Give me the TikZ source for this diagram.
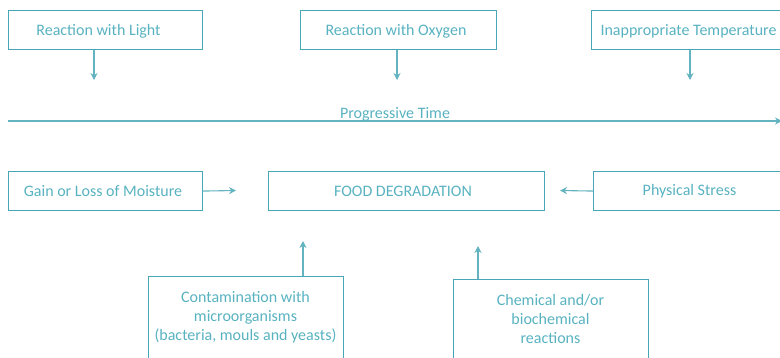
\documentclass[tikz,border=0pt]{standalone}
\usepackage{fontspec}
\setmainfont{Carlito}
\usetikzlibrary{arrows.meta}
\definecolor{teal1}{RGB}{72,166,182}
\definecolor{tealtext}{RGB}{88,178,192}
\tikzset{
  box/.style={draw=teal1, line width=1.1pt, minimum height=39pt, inner sep=0pt, anchor=north west},
  lbl/.style={text=tealtext, font=\fontsize{16}{19}\selectfont, align=center, inner sep=0pt},
  link/.style={draw=teal1!85, line width=1.1pt, -{Stealth[length=7pt,width=7pt]}},
}
\begin{document}
\begin{tikzpicture}[x=1pt,y=-1pt]
\useasboundingbox (0,0) rectangle (780,357);
\clip (0,0) rectangle (780,357);
% causes acting over time
\node[box, minimum width=194pt] (light) at (8,10) {};
\node[lbl] (lighttxt) at (98.5,31) {Reaction with Light};
\node[box, minimum width=196pt] (oxygen) at (300,10) {};
\node[lbl] (oxytxt) at (396,31) {Reaction with Oxygen};
\node[box, minimum width=200pt] (temp) at (591,10) {};
\node[lbl] (temptxt) at (688.5,31) {Inappropriate Temperature};
\coordinate (lightend) at (94,80);
\coordinate (oxyend) at (397,80);
\coordinate (tempend) at (690,80);
\draw[link] (light.south -| lightend) -- (lightend);
\draw[link] (oxygen.south -| oxyend) -- (oxyend);
\draw[link] (temp.south -| tempend) -- (tempend);
% time axis
\coordinate (t0) at (8,121);
\coordinate (t1) at (782,121);
\draw[link] (t0) -- (t1);
\node[lbl] (time) at (395,114) {Progressive Time};
% middle row
\node[box, minimum width=194pt] (moist) at (8,171) {};
\node[lbl] (moisttxt) at (103,191) {Gain or Loss of Moisture};
\node[box, minimum width=276pt] (food) at (268,171) {};
\node[lbl] (foodtxt) at (403,191) {FOOD DEGRADATION};
\node[box, minimum width=200pt] (stress) at (593,171) {};
\node[lbl] (stresstxt) at (689.5,191) {Physical Stress};
\coordinate (moistend) at (236,190.5);
\coordinate (stressend) at (560,190.5);
\draw[link] (moist.east) -- (moistend);
\draw[link] (stress.west) -- (stressend);
% bottom row
\node[box, minimum width=195pt, minimum height=100pt] (micro) at (148,276) {};
\node[lbl, font=\fontsize{16}{19}\selectfont, anchor=north] (microtxt) at (245.5,291.5)
  {Contamination with\\microorganisms\\(bacteria, mouls and yeasts)};
\node[box, minimum width=195pt, minimum height=100pt] (chem) at (453,279) {};
\node[lbl, font=\fontsize{16}{19}\selectfont, anchor=north] (chemtxt) at (550.5,294.5)
  {Chemical and/or\\biochemical\\reactions};
\coordinate (microend) at (303,241);
\coordinate (chemend) at (478,246);
\draw[link] (micro.north -| microend) -- (microend);
\draw[link] (chem.north -| chemend) -- (chemend);
\end{tikzpicture}
\end{document}
